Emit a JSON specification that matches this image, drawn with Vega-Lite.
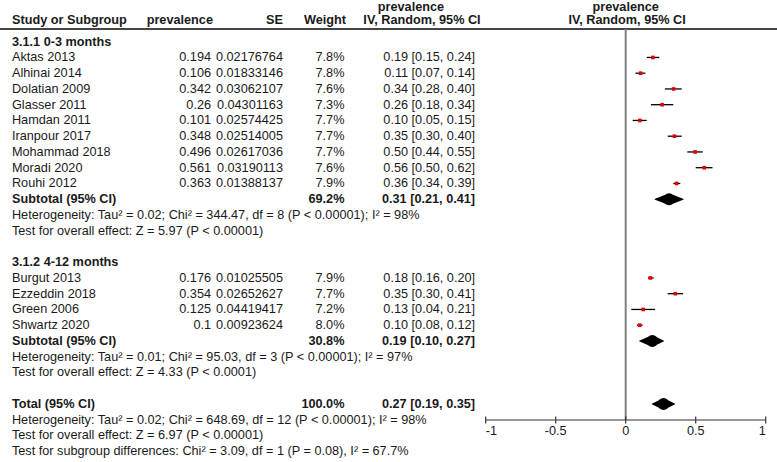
{
  "$schema": "https://vega.github.io/schema/vega-lite/v6.json",
  "width": 777,
  "height": 462,
  "autosize": {"type": "none"},
  "padding": 0,
  "background": "white",
  "config": {
    "view": {"stroke": null},
    "axis": {"disable": true},
    "text": {"font": "Liberation Sans", "fontSize": 12.7, "color": "#1a1a1a", "baseline": "middle"}
  },
  "datasets": {
    "rows": [
      {"row": 0, "kind": "group", "label": "3.1.1 0-3 months"},
      {"row": 1, "kind": "study", "label": "Aktas 2013", "prev": "0.194", "se": "0.02176764", "weight": "7.8%", "ci": "0.19 [0.15, 0.24]", "est": 0.194, "lo": 0.15, "hi": 0.24},
      {"row": 2, "kind": "study", "label": "Alhinai 2014", "prev": "0.106", "se": "0.01833146", "weight": "7.8%", "ci": "0.11 [0.07, 0.14]", "est": 0.106, "lo": 0.07, "hi": 0.14},
      {"row": 3, "kind": "study", "label": "Dolatian 2009", "prev": "0.342", "se": "0.03062107", "weight": "7.6%", "ci": "0.34 [0.28, 0.40]", "est": 0.342, "lo": 0.28, "hi": 0.40},
      {"row": 4, "kind": "study", "label": "Glasser 2011", "prev": "0.26", "se": "0.04301163", "weight": "7.3%", "ci": "0.26 [0.18, 0.34]", "est": 0.26, "lo": 0.18, "hi": 0.34},
      {"row": 5, "kind": "study", "label": "Hamdan 2011", "prev": "0.101", "se": "0.02574425", "weight": "7.7%", "ci": "0.10 [0.05, 0.15]", "est": 0.101, "lo": 0.05, "hi": 0.15},
      {"row": 6, "kind": "study", "label": "Iranpour 2017", "prev": "0.348", "se": "0.02514005", "weight": "7.7%", "ci": "0.35 [0.30, 0.40]", "est": 0.348, "lo": 0.30, "hi": 0.40},
      {"row": 7, "kind": "study", "label": "Mohammad 2018", "prev": "0.496", "se": "0.02617036", "weight": "7.7%", "ci": "0.50 [0.44, 0.55]", "est": 0.496, "lo": 0.44, "hi": 0.55},
      {"row": 8, "kind": "study", "label": "Moradi 2020", "prev": "0.561", "se": "0.03190113", "weight": "7.6%", "ci": "0.56 [0.50, 0.62]", "est": 0.561, "lo": 0.50, "hi": 0.62},
      {"row": 9, "kind": "study", "label": "Rouhi 2012", "prev": "0.363", "se": "0.01388137", "weight": "7.9%", "ci": "0.36 [0.34, 0.39]", "est": 0.363, "lo": 0.34, "hi": 0.39},
      {"row": 10, "kind": "subtotal", "label": "Subtotal (95% CI)", "weight": "69.2%", "ci": "0.31 [0.21, 0.41]", "est": 0.31, "lo": 0.21, "hi": 0.41},
      {"row": 11, "kind": "note", "label": "Heterogeneity: Tau² = 0.02; Chi² = 344.47, df = 8 (P < 0.00001); I² = 98%"},
      {"row": 12, "kind": "note", "label": "Test for overall effect: Z = 5.97 (P < 0.00001)"},
      {"row": 14, "kind": "group", "label": "3.1.2 4-12 months"},
      {"row": 15, "kind": "study", "label": "Burgut 2013", "prev": "0.176", "se": "0.01025505", "weight": "7.9%", "ci": "0.18 [0.16, 0.20]", "est": 0.176, "lo": 0.16, "hi": 0.20},
      {"row": 16, "kind": "study", "label": "Ezzeddin 2018", "prev": "0.354", "se": "0.02652627", "weight": "7.7%", "ci": "0.35 [0.30, 0.41]", "est": 0.354, "lo": 0.30, "hi": 0.41},
      {"row": 17, "kind": "study", "label": "Green 2006", "prev": "0.125", "se": "0.04419417", "weight": "7.2%", "ci": "0.13 [0.04, 0.21]", "est": 0.125, "lo": 0.04, "hi": 0.21},
      {"row": 18, "kind": "study", "label": "Shwartz 2020", "prev": "0.1", "se": "0.00923624", "weight": "8.0%", "ci": "0.10 [0.08, 0.12]", "est": 0.1, "lo": 0.08, "hi": 0.12},
      {"row": 19, "kind": "subtotal", "label": "Subtotal (95% CI)", "weight": "30.8%", "ci": "0.19 [0.10, 0.27]", "est": 0.19, "lo": 0.10, "hi": 0.27},
      {"row": 20, "kind": "note", "label": "Heterogeneity: Tau² = 0.01; Chi² = 95.03, df = 3 (P < 0.00001); I² = 97%"},
      {"row": 21, "kind": "note", "label": "Test for overall effect: Z = 4.33 (P < 0.0001)"},
      {"row": 23, "kind": "subtotal", "label": "Total (95% CI)", "weight": "100.0%", "ci": "0.27 [0.19, 0.35]", "est": 0.27, "lo": 0.19, "hi": 0.35},
      {"row": 24, "kind": "note", "label": "Heterogeneity: Tau² = 0.02; Chi² = 648.69, df = 12 (P < 0.00001); I² = 98%"},
      {"row": 25, "kind": "note", "label": "Test for overall effect: Z = 6.97 (P < 0.00001)"},
      {"row": 26, "kind": "note", "label": "Test for subgroup differences: Chi² = 3.09, df = 1 (P = 0.08), I² = 67.7%"}
    ],
    "ticks": [
      {"v": -1, "t": "-1"},
      {"v": -0.5, "t": "-0.5"},
      {"v": 0, "t": "0"},
      {"v": 0.5, "t": "0.5"},
      {"v": 1, "t": "1"}
    ]
  },
  "layer": [
    {
      "data": {"name": "rows"},
      "mark": {"type": "rule", "color": "#444444", "strokeWidth": 1.5},
      "encoding": {
        "y": {"datum": -0.83, "type": "quantitative", "scale": {"domain": [-2.6476, 26.686], "reverse": true, "nice": false, "zero": false}}
      }
    },
    {
      "data": {"values": [{"z": 0}]},
      "mark": {"type": "rule", "color": "#808080", "strokeWidth": 2},
      "encoding": {
        "x": {"field": "z", "type": "quantitative", "scale": {"domain": [-4.4693, 1.0807], "nice": false, "zero": false}},
        "y": {"datum": -0.83, "type": "quantitative"},
        "y2": {"datum": 24.02}
      }
    },
    {
      "data": {"values": [{"a": -1, "b": 1}]},
      "mark": {"type": "rule", "color": "#333333", "strokeWidth": 1.2},
      "encoding": {
        "x": {"field": "a", "type": "quantitative"},
        "x2": {"field": "b"},
        "y": {"datum": 24.02, "type": "quantitative"}
      }
    },
    {
      "data": {"name": "ticks"},
      "mark": {"type": "rule", "color": "#333333", "strokeWidth": 1.2},
      "encoding": {
        "x": {"field": "v", "type": "quantitative"},
        "y": {"datum": 23.8, "type": "quantitative"},
        "y2": {"datum": 24.24}
      }
    },
    {
      "data": {"name": "ticks"},
      "transform": [{"filter": "datum.v === -1"}],
      "mark": {"type": "text", "align": "left"},
      "encoding": {
        "x": {"field": "v", "type": "quantitative"},
        "y": {"datum": 24.74, "type": "quantitative"},
        "text": {"field": "t"}
      }
    },
    {
      "data": {"name": "ticks"},
      "transform": [{"filter": "datum.v > -1 && datum.v < 1"}],
      "mark": {"type": "text", "align": "center"},
      "encoding": {
        "x": {"field": "v", "type": "quantitative"},
        "y": {"datum": 24.74, "type": "quantitative"},
        "text": {"field": "t"}
      }
    },
    {
      "data": {"name": "ticks"},
      "transform": [{"filter": "datum.v === 1"}],
      "mark": {"type": "text", "align": "right"},
      "encoding": {
        "x": {"field": "v", "type": "quantitative"},
        "y": {"datum": 24.74, "type": "quantitative"},
        "text": {"field": "t"}
      }
    },
    {
      "data": {"name": "rows"},
      "transform": [{"filter": "datum.kind === 'study'"}],
      "mark": {"type": "rule", "color": "#000000", "strokeWidth": 1.3},
      "encoding": {
        "x": {"field": "lo", "type": "quantitative"},
        "x2": {"field": "hi"},
        "y": {"field": "row", "type": "quantitative"}
      }
    },
    {
      "data": {"name": "rows"},
      "transform": [{"filter": "datum.kind === 'study'"}],
      "mark": {"type": "square", "color": "#e00000", "filled": true, "opacity": 1, "size": 13},
      "encoding": {
        "x": {"field": "est", "type": "quantitative"},
        "y": {"field": "row", "type": "quantitative"}
      }
    },
    {
      "data": {"name": "rows"},
      "transform": [
        {"filter": "datum.kind === 'subtotal'"},
        {"fold": ["lo", "est", "hi"], "as": ["key", "xv"]}
      ],
      "mark": {"type": "trail", "color": "#000000"},
      "encoding": {
        "x": {"field": "xv", "type": "quantitative"},
        "y": {"field": "row", "type": "quantitative"},
        "detail": {"field": "row", "type": "nominal"},
        "order": {"field": "xv", "type": "quantitative"},
        "size": {"condition": {"test": "datum.key === 'est'", "value": 12}, "value": 0}
      }
    },
    {
      "data": {"name": "rows"},
      "transform": [{"filter": "datum.kind === 'study' || datum.kind === 'note'"}],
      "mark": {"type": "text", "align": "left"},
      "encoding": {
        "x": {"datum": -4.384, "type": "quantitative"},
        "y": {"field": "row", "type": "quantitative"},
        "text": {"field": "label"}
      }
    },
    {
      "data": {"name": "rows"},
      "transform": [{"filter": "datum.kind === 'group' || datum.kind === 'subtotal'"}],
      "mark": {"type": "text", "align": "left", "fontWeight": "bold"},
      "encoding": {
        "x": {"datum": -4.384, "type": "quantitative"},
        "y": {"field": "row", "type": "quantitative"},
        "text": {"field": "label"}
      }
    },
    {
      "data": {"name": "rows"},
      "transform": [{"filter": "datum.kind === 'study'"}],
      "mark": {"type": "text", "align": "right"},
      "encoding": {
        "x": {"datum": -2.962, "type": "quantitative"},
        "y": {"field": "row", "type": "quantitative"},
        "text": {"field": "prev"}
      }
    },
    {
      "data": {"name": "rows"},
      "transform": [{"filter": "datum.kind === 'study'"}],
      "mark": {"type": "text", "align": "right"},
      "encoding": {
        "x": {"datum": -2.448, "type": "quantitative"},
        "y": {"field": "row", "type": "quantitative"},
        "text": {"field": "se"}
      }
    },
    {
      "data": {"name": "rows"},
      "transform": [{"filter": "datum.kind === 'study'"}],
      "mark": {"type": "text", "align": "right"},
      "encoding": {
        "x": {"datum": -2.009, "type": "quantitative"},
        "y": {"field": "row", "type": "quantitative"},
        "text": {"field": "weight"}
      }
    },
    {
      "data": {"name": "rows"},
      "transform": [{"filter": "datum.kind === 'subtotal'"}],
      "mark": {"type": "text", "align": "right", "fontWeight": "bold"},
      "encoding": {
        "x": {"datum": -2.009, "type": "quantitative"},
        "y": {"field": "row", "type": "quantitative"},
        "text": {"field": "weight"}
      }
    },
    {
      "data": {"name": "rows"},
      "transform": [{"filter": "datum.kind === 'study'"}],
      "mark": {"type": "text", "align": "right"},
      "encoding": {
        "x": {"datum": -1.076, "type": "quantitative"},
        "y": {"field": "row", "type": "quantitative"},
        "text": {"field": "ci"}
      }
    },
    {
      "data": {"name": "rows"},
      "transform": [{"filter": "datum.kind === 'subtotal'"}],
      "mark": {"type": "text", "align": "right", "fontWeight": "bold"},
      "encoding": {
        "x": {"datum": -1.076, "type": "quantitative"},
        "y": {"field": "row", "type": "quantitative"},
        "text": {"field": "ci"}
      }
    },
    {
      "data": {"values": [{"t": "Study or Subgroup"}]},
      "mark": {"type": "text", "align": "left", "fontWeight": "bold"},
      "encoding": {
        "x": {"datum": -4.384, "type": "quantitative"},
        "y": {"datum": -1.35, "type": "quantitative"},
        "text": {"field": "t"}
      }
    },
    {
      "data": {"values": [{"t": "prevalence"}]},
      "mark": {"type": "text", "align": "right", "fontWeight": "bold"},
      "encoding": {
        "x": {"datum": -2.948, "type": "quantitative"},
        "y": {"datum": -1.35, "type": "quantitative"},
        "text": {"field": "t"}
      }
    },
    {
      "data": {"values": [{"t": "SE"}]},
      "mark": {"type": "text", "align": "right", "fontWeight": "bold"},
      "encoding": {
        "x": {"datum": -2.448, "type": "quantitative"},
        "y": {"datum": -1.35, "type": "quantitative"},
        "text": {"field": "t"}
      }
    },
    {
      "data": {"values": [{"t": "Weight"}]},
      "mark": {"type": "text", "align": "right", "fontWeight": "bold"},
      "encoding": {
        "x": {"datum": -1.998, "type": "quantitative"},
        "y": {"datum": -1.35, "type": "quantitative"},
        "text": {"field": "t"}
      }
    },
    {
      "data": {"values": [{"t": "IV, Random, 95% CI"}]},
      "mark": {"type": "text", "align": "center", "fontWeight": "bold"},
      "encoding": {
        "x": {"datum": -1.455, "type": "quantitative"},
        "y": {"datum": -1.35, "type": "quantitative"},
        "text": {"field": "t"}
      }
    },
    {
      "data": {"values": [{"t": "prevalence"}]},
      "mark": {"type": "text", "align": "center", "fontWeight": "bold"},
      "encoding": {
        "x": {"datum": -1.534, "type": "quantitative"},
        "y": {"datum": -2.2, "type": "quantitative"},
        "text": {"field": "t"}
      }
    },
    {
      "data": {"values": [{"t": "IV, Random, 95% CI"}]},
      "mark": {"type": "text", "align": "center", "fontWeight": "bold"},
      "encoding": {
        "x": {"datum": 0.01, "type": "quantitative"},
        "y": {"datum": -1.35, "type": "quantitative"},
        "text": {"field": "t"}
      }
    },
    {
      "data": {"values": [{"t": "prevalence"}]},
      "mark": {"type": "text", "align": "center", "fontWeight": "bold"},
      "encoding": {
        "x": {"datum": 0.0, "type": "quantitative"},
        "y": {"datum": -2.2, "type": "quantitative"},
        "text": {"field": "t"}
      }
    }
  ]
}
